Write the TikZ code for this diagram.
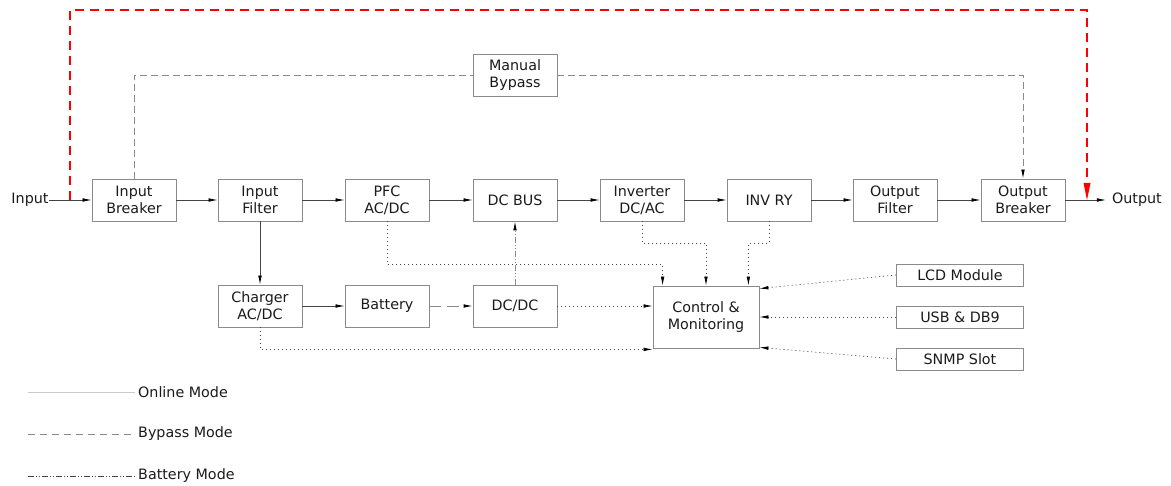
\documentclass[tikz,border=0pt]{standalone}
\usepackage{fontspec}
\setmainfont{DejaVu Sans}
\usetikzlibrary{arrows.meta}
\definecolor{boxc}{HTML}{8A8A8A}
\definecolor{linec}{HTML}{444444}
\definecolor{txtc}{HTML}{1A1A1A}
\begin{document}
\begin{tikzpicture}[x=1pt,y=-1pt,
  every node/.style={text=txtc,font=\fontsize{14.3}{17}\selectfont},
  blk/.style={draw=boxc,line width=0.8pt,minimum width=84pt,minimum height=42pt,inner sep=0pt,align=center},
  sblk/.style={draw=boxc,line width=0.8pt,minimum width=127pt,minimum height=22pt,inner sep=0pt,align=center},
  lbl/.style={inner sep=0pt},
  tip/.style={-{Latex[length=9pt,width=3.6pt,color=black]}},
  online/.style={draw=linec,line width=0.7pt,tip},
  bypass/.style={draw=boxc,line width=0.8pt,dash pattern=on 7pt off 4pt},
  battery/.style={draw=boxc,line width=0.8pt,dash pattern=on 6pt off 2pt on 1pt off 2pt on 1pt off 2pt},
  sig/.style={draw=linec,line width=0.7pt,dash pattern=on 1pt off 3pt,tip},
  redline/.style={draw=red,line width=1.8pt,dash pattern=on 9pt off 6pt}
]
\useasboundingbox (0,0) rectangle (1171,486);

% main chain
\node[lbl] (in) at (30,200) {Input};
\node[blk] (ib) at (134,200) {Input\\Breaker};
\node[blk] (if) at (260,200) {Input\\Filter};
\node[blk] (pfc) at (387,200) {PFC\\AC/DC};
\node[blk] (bus) at (515,200) {DC BUS};
\node[blk] (inv) at (642,200) {Inverter\\DC/AC};
\node[blk] (ry) at (769,200) {INV RY};
\node[blk] (of) at (895,200) {Output\\Filter};
\node[blk] (ob) at (1023,200) {Output\\Breaker};
\node[lbl] (out) at (1137,200) {Output};

\node[blk] (mb) at (515,75) {Manual\\Bypass};

\node[blk] (chg) at (260,306) {Charger\\AC/DC};
\node[blk] (bat) at (387,306) {Battery};
\node[blk] (dcdc) at (515,306) {DC/DC};
\node[draw=boxc,line width=0.8pt,minimum width=106pt,minimum height=62pt,inner sep=0pt,align=center] (ctrl) at (706,317) {Control \&\\Monitoring};

\node[sblk] (lcd) at (960,275) {LCD Module};
\node[sblk] (usb) at (960,317) {USB \& DB9};
\node[sblk] (snmp) at (960,359) {SNMP Slot};

% red bypass
\coordinate (rs) at (70,200);
\coordinate (rt1) at (70,10);
\coordinate (rt2) at (1087,10);
\coordinate (re) at (1087,200);
\draw[redline] (rs) -- (rt1) -- (rt2) -- ([yshift=16pt]re);
\fill[red] (re) -- ++(-3.5,-17) -- ++(7,0) -- cycle;

% online chain
\draw[online] (in.east) -- (ib.west);
\draw[online] (ib) -- (if);
\draw[online] (if) -- (pfc);
\draw[online] (pfc) -- (bus);
\draw[online] (bus) -- (inv);
\draw[online] (inv) -- (ry);
\draw[online] (ry) -- (of);
\draw[online] (of) -- (ob);
\draw[online,shorten >=6pt] (ob.east) -- (out.west);
\draw[online] (if) -- (chg);
\draw[online] (chg) -- (bat);

% manual bypass
\draw[bypass] (ib.north) |- (mb.west);
\draw[bypass,tip] (mb.east) -| (ob.north);

% battery
\draw[bypass,tip,dash pattern=on 12pt off 6pt] (bat) -- (dcdc);
\draw[battery,tip] (dcdc) -- (bus);

% signals
\draw[sig] (pfc.south) -- ++(0,43) -| ([xshift=10pt]ctrl.north west);
\draw[sig] (inv.south) -- ++(0,22) -| (ctrl.north);
\draw[sig] (ry.south) -- ++(0,22) -| ([xshift=-11pt]ctrl.north east);
\draw[sig] (dcdc.east) -- (dcdc.east -| ctrl.west);
\draw[sig] (chg.south) |- ([yshift=-1pt]ctrl.south west);
\draw[sig] (lcd.west) -- ([yshift=-3pt]ctrl.north east);
\draw[sig] (usb.west) -- (ctrl.east);
\draw[sig] (snmp.west) -- ([yshift=1pt]ctrl.south east);

% legend
\coordinate (l1a) at (28,392); \coordinate (l1b) at (135,392);
\coordinate (l2a) at (28,434); \coordinate (l2b) at (135,434);
\coordinate (l3a) at (28,476); \coordinate (l3b) at (135,476);
\draw[draw=black!20,line width=0.8pt] (l1a) -- (l1b);
\draw[bypass,dash pattern=on 7pt off 5pt] (l2a) -- (l2b);
\draw[battery,draw=linec] (l3a) -- (l3b);
\node[lbl,anchor=west] (t1) at (138,392) {Online Mode};
\node[lbl,anchor=west] (t2) at (138,434) {Bypass Mode};
\node[lbl,anchor=west] (t3) at (138,476) {Battery Mode};
\end{tikzpicture}
\end{document}
